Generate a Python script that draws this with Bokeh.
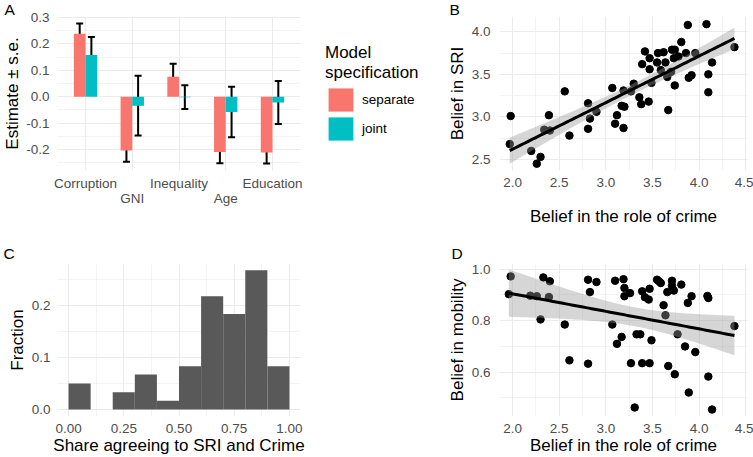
import numpy as np
from bokeh.plotting import figure
from bokeh.models import (Range1d, LinearAxis, FixedTicker, Whisker, TeeHead, ColumnDataSource,
                          Legend, LegendItem, PrintfTickFormatter)
from bokeh.layouts import row, column
from bokeh.embed import file_html
from bokeh.resources import INLINE

# ---------------- data ----------------
# Panel A: coefficient estimates
predictors = ["Corruption", "GNI", "Inequality", "Age", "Education"]
est_separate = [0.238, -0.204, 0.075, -0.209, -0.211]
se_separate = [0.039, 0.042, 0.050, 0.043, 0.042]
est_joint = [0.158, -0.034, -0.002, -0.058, -0.022]
se_joint = [0.068, 0.113, 0.045, 0.096, 0.081]
spec_labels = ["separate", "joint"]
a_yticks = [-0.2, -0.1, 0.0, 0.1, 0.2, 0.3]
a_yminor = [-0.25, -0.15, -0.05, 0.05, 0.15, 0.25]

# Panel B: belief in role of crime vs belief in SRI
crime_b = [1.98, 1.97, 2.20, 2.30, 2.26, 2.34, 2.40, 2.39, 2.56, 2.61, 2.81, 2.83, 2.81, 2.90,
           3.07, 3.19, 3.12, 3.10, 3.19, 3.17, 3.20, 3.30, 3.27, 3.36, 3.38, 3.46, 3.49, 3.39,
           3.42, 3.47, 3.47, 3.55, 3.56, 3.62, 3.64, 3.59, 3.66, 3.67, 3.71, 3.73, 3.78, 3.74,
           3.70, 3.74, 3.81, 3.86, 3.88, 3.89, 3.92, 3.96, 4.08, 4.10, 4.10, 4.14, 4.38]
sri_b = [3.01, 2.68, 2.60, 2.53, 2.45, 2.85, 2.84, 3.02, 3.30, 2.78, 3.16, 2.98, 2.86, 3.06,
         3.34, 3.31, 3.02, 2.92, 2.87, 3.13, 3.12, 3.39, 3.30, 3.23, 3.15, 3.18, 3.40, 3.62,
         3.77, 3.56, 3.69, 3.64, 3.75, 3.76, 3.64, 3.55, 3.47, 3.08, 3.79, 3.69, 3.71, 3.79,
         3.53, 3.37, 3.88, 3.75, 4.08, 3.46, 3.49, 3.75, 4.09, 3.50, 3.29, 3.64, 3.82]
b_xticks = [2.0, 2.5, 3.0, 3.5, 4.0, 4.5]
b_xminor = [2.25, 2.75, 3.25, 3.75, 4.25]
b_yticks = [2.5, 3.0, 3.5, 4.0]
b_yminor = [2.75, 3.25, 3.75]

# Panel C: histogram
bin_edges = [0.0, 0.1, 0.2, 0.3, 0.4, 0.5, 0.6, 0.7, 0.8, 0.9, 1.0]
fractions = [0.050, 0.000, 0.033, 0.067, 0.017, 0.083, 0.217, 0.183, 0.267, 0.083]
c_xticks = [0.0, 0.25, 0.5, 0.75, 1.0]
c_xminor = [0.125, 0.375, 0.625, 0.875]
c_yticks = [0.0, 0.1, 0.2]
c_yminor = [0.05, 0.15, 0.25]

# Panel D: belief in role of crime vs belief in mobility
crime_d = [1.98, 1.96, 2.19, 2.26, 2.39, 2.33, 2.40, 2.30, 2.56, 2.61, 2.81, 2.81, 2.90, 2.83,
           3.07, 3.10, 3.17, 3.12, 3.19, 3.20, 3.20, 3.26, 3.27, 3.31, 3.33, 3.37, 3.39, 3.47,
           3.49, 3.39, 3.42, 3.46, 3.47, 3.55, 3.57, 3.59, 3.66, 3.62, 3.64, 3.67, 3.71, 3.71,
           3.73, 3.74, 3.77, 3.81, 3.85, 3.88, 3.92, 3.96, 3.89, 4.09, 4.10, 4.10, 4.14, 4.38]
mobility_d = [0.972, 0.903, 0.897, 0.895, 0.892, 0.968, 0.953, 0.805, 0.785, 0.646, 0.633, 0.959,
              0.950, 0.911, 0.785, 0.955, 0.737, 0.710, 0.961, 0.927, 0.895, 0.907, 0.635, 0.463,
              0.747, 0.747, 0.635, 0.635, 0.724, 0.914, 0.891, 0.882, 0.924, 0.959, 0.953, 0.946,
              0.911, 0.860, 0.821, 0.624, 0.955, 0.936, 0.917, 0.592, 0.747, 0.940, 0.700, 0.869,
              0.895, 0.678, 0.521, 0.896, 0.888, 0.583, 0.455, 0.779]
d_yticks = [0.6, 0.8, 1.0]
d_yminor = [0.5, 0.7, 0.9]

# ---------------- style ----------------
FONT = "Liberation Sans"
TICK_SIZE = "13.5px"
TITLE_SIZE = "17px"
TICK_COLOR = "#4D4D4D"
GRID = "#EBEBEB"
C_SEP = "#F8766D"
C_JOINT = "#00BFC4"


def base_fig(width, height, xr, yr, left, right, top, bottom, letter, offset, standoff):
    p = figure(width=width, height=height, x_range=xr, y_range=yr,
               output_backend="svg", toolbar_location=None,
               min_border_left=left, min_border_right=right,
               min_border_top=top, min_border_bottom=bottom)
    p.outline_line_color = None
    p.background_fill_color = "white"
    p.border_fill_color = "white"
    p.title.text = letter
    p.title.align = "left"
    p.title.offset = offset
    p.title.standoff = standoff
    p.title.text_font = FONT
    p.title.text_font_size = "15.5px"
    p.title.text_font_style = "normal"
    p.title.text_color = "black"
    p.title.text_line_height = 1.0
    return p


def style_axis(ax, fmt=None, standoff=6):
    ax.axis_line_color = None
    ax.major_tick_line_color = None
    ax.minor_tick_line_color = None
    ax.major_tick_out = 0
    ax.major_tick_in = 0
    ax.minor_tick_out = 0
    ax.minor_tick_in = 0
    ax.major_label_text_font = FONT
    ax.major_label_text_font_size = TICK_SIZE
    ax.major_label_text_color = TICK_COLOR
    ax.major_label_standoff = standoff
    ax.axis_label_text_font = FONT
    ax.axis_label_text_font_size = TITLE_SIZE
    ax.axis_label_text_font_style = "normal"
    ax.axis_label_text_color = "black"
    if fmt is not None:
        ax.formatter = PrintfTickFormatter(format=fmt)


def style_grid(g, ticker):
    g.ticker = ticker
    g.grid_line_color = GRID
    g.grid_line_width = 1.1
    g.minor_grid_line_color = GRID
    g.minor_grid_line_width = 0.6


def lm_band(x, y, n_grid=80):
    x = np.asarray(x, float)
    y = np.asarray(y, float)
    n = len(x)
    b1, b0 = np.polyfit(x, y, 1)
    resid = y - (b0 + b1 * x)
    s = np.sqrt(np.sum(resid ** 2) / (n - 2))
    xs = np.linspace(x.min(), x.max(), n_grid)
    se = s * np.sqrt(1.0 / n + (xs - x.mean()) ** 2 / np.sum((x - x.mean()) ** 2))
    fit = b0 + b1 * xs
    t = 2.0
    return xs, fit, fit - t * se, fit + t * se


# ---------------- Panel A ----------------
xpos = np.arange(1, len(predictors) + 1)
dodge = 0.125
srcA_sep = ColumnDataSource(dict(x=xpos - dodge, top=est_separate,
                                 lo=np.array(est_separate) - np.array(se_separate),
                                 hi=np.array(est_separate) + np.array(se_separate)))
srcA_joint = ColumnDataSource(dict(x=xpos + dodge, top=est_joint,
                                   lo=np.array(est_joint) - np.array(se_joint),
                                   hi=np.array(est_joint) + np.array(se_joint)))

pA = base_fig(312, 238, Range1d(0.4, 5.6), Range1d(-0.2795, 0.3035), 52, 12, 15, 68, "A", -53, -3)
pA.vbar(x="x", top="top", bottom=0, width=0.25, source=srcA_sep,
        fill_color=C_SEP, line_color=None)
pA.vbar(x="x", top="top", bottom=0, width=0.25, source=srcA_joint,
        fill_color=C_JOINT, line_color=None)
for src in (srcA_sep, srcA_joint):
    pA.add_layout(Whisker(base="x", lower="lo", upper="hi", source=src,
                          line_color="black", line_width=2,
                          upper_head=TeeHead(size=7, line_width=2, line_color="black"),
                          lower_head=TeeHead(size=7, line_width=2, line_color="black")))

style_axis(pA.xaxis[0], standoff=5)
pA.xaxis[0].ticker = FixedTicker(ticks=[int(v) for v in xpos[::2]])
pA.xaxis[0].major_label_overrides = {int(i + 1): n for i, n in enumerate(predictors) if i % 2 == 0}
ax2 = LinearAxis(ticker=FixedTicker(ticks=[int(v) for v in xpos[1::2]]))
style_axis(ax2, standoff=-3)
ax2.major_label_overrides = {int(i + 1): n for i, n in enumerate(predictors) if i % 2 == 1}
pA.add_layout(ax2, "below")

style_axis(pA.yaxis[0], fmt="%.1f", standoff=8)
pA.yaxis[0].ticker = FixedTicker(ticks=a_yticks, minor_ticks=a_yminor)
pA.yaxis[0].axis_label = "Estimate ± s.e."
pA.yaxis[0].axis_label_standoff = 1
style_grid(pA.xgrid[0], FixedTicker(ticks=[int(v) for v in xpos]))
style_grid(pA.ygrid[0], FixedTicker(ticks=a_yticks, minor_ticks=a_yminor))

# ---------------- Legend (own small figure) ----------------
pL = figure(width=128, height=457, x_range=Range1d(0, 1), y_range=Range1d(0, 1),
            output_backend="svg", toolbar_location=None,
            x_axis_location=None, y_axis_location=None,
            min_border_left=13, min_border_right=0, min_border_top=43, min_border_bottom=0)
pL.grid.visible = False
pL.outline_line_color = None
# placeholder renderers (no visible mark) that only provide the legend swatches
leg_sep = pL.vbar(x=[np.nan], top=[np.nan], width=0.1, fill_color=C_SEP, line_color=None)
leg_joint = pL.vbar(x=[np.nan], top=[np.nan], width=0.1, fill_color=C_JOINT, line_color=None)
legend = Legend(items=[LegendItem(label=spec_labels[0], renderers=[leg_sep]),
                       LegendItem(label=spec_labels[1], renderers=[leg_joint])],
                title="Model\nspecification", location="top_left")
legend.title_text_font = FONT
legend.title_text_font_size = TITLE_SIZE
legend.title_text_font_style = "normal"
legend.title_text_color = "black"
legend.title_standoff = 2
legend.label_text_font = FONT
legend.label_text_font_size = TICK_SIZE
legend.label_text_color = "black"
legend.label_standoff = 6
legend.glyph_width = 31
legend.glyph_height = 29
legend.label_height = 29
legend.spacing = 0
legend.padding = 0
legend.margin = 0
legend.border_line_color = None
legend.background_fill_color = None
pL.add_layout(legend)

# ---------------- Panel B ----------------
pB = base_fig(313, 238, Range1d(1.86, 4.52), Range1d(2.37, 4.18), 59, 6, 15, 68, "B", -50, -3)
pB.scatter(crime_b, sri_b, size=7.5, color="black")
xs, fit, lo, hi = lm_band(crime_b, sri_b)
pB.varea(x=xs, y1=lo, y2=hi, fill_color="#999999", fill_alpha=0.4)
pB.line(xs, fit, line_color="black", line_width=3)
style_axis(pB.xaxis[0], fmt="%.1f", standoff=7)
pB.xaxis[0].ticker = FixedTicker(ticks=b_xticks, minor_ticks=b_xminor)
pB.xaxis[0].axis_label = "Belief in the role of crime"
pB.xaxis[0].axis_label_standoff = 17
style_axis(pB.yaxis[0], fmt="%.1f", standoff=9)
pB.yaxis[0].ticker = FixedTicker(ticks=b_yticks, minor_ticks=b_yminor)
pB.yaxis[0].axis_label = "Belief in SRI"
pB.yaxis[0].axis_label_standoff = 2
style_grid(pB.xgrid[0], FixedTicker(ticks=b_xticks, minor_ticks=b_xminor))
style_grid(pB.ygrid[0], FixedTicker(ticks=b_yticks, minor_ticks=b_yminor))

# ---------------- Panel C ----------------
pC = base_fig(312, 219, Range1d(-0.05, 1.05), Range1d(-0.0133, 0.28), 52, 12, 25, 39, "C", -54, 4)
pC.quad(left=bin_edges[:-1], right=bin_edges[1:], bottom=0, top=fractions,
        fill_color="#595959", line_color=None)
style_axis(pC.xaxis[0], fmt="%.2f", standoff=7)
pC.xaxis[0].ticker = FixedTicker(ticks=c_xticks, minor_ticks=c_xminor)
pC.xaxis[0].axis_label = "Share agreeing to SRI and Crime"
pC.xaxis[0].axis_label_standoff = 0
style_axis(pC.yaxis[0], fmt="%.1f", standoff=7)
pC.yaxis[0].ticker = FixedTicker(ticks=c_yticks, minor_ticks=c_yminor)
pC.yaxis[0].axis_label = "Fraction"
pC.yaxis[0].axis_label_standoff = 2
style_grid(pC.xgrid[0], FixedTicker(ticks=c_xticks, minor_ticks=c_xminor))
style_grid(pC.ygrid[0], FixedTicker(ticks=c_yticks, minor_ticks=c_yminor))

# ---------------- Panel D ----------------
pD = base_fig(313, 219, Range1d(1.86, 4.52), Range1d(0.428, 1.022), 59, 6, 25, 39, "D", -48, 4)
pD.scatter(crime_d, mobility_d, size=7.5, color="black")
xs, fit, lo, hi = lm_band(crime_d, mobility_d)
pD.varea(x=xs, y1=lo, y2=hi, fill_color="#999999", fill_alpha=0.4)
pD.line(xs, fit, line_color="black", line_width=3)
style_axis(pD.xaxis[0], fmt="%.1f", standoff=7)
pD.xaxis[0].ticker = FixedTicker(ticks=b_xticks, minor_ticks=b_xminor)
pD.xaxis[0].axis_label = "Belief in the role of crime"
pD.xaxis[0].axis_label_standoff = 0
style_axis(pD.yaxis[0], fmt="%.1f", standoff=9)
pD.yaxis[0].ticker = FixedTicker(ticks=d_yticks, minor_ticks=d_yminor)
pD.yaxis[0].axis_label = "Belief in mobility"
pD.yaxis[0].axis_label_standoff = 2
style_grid(pD.xgrid[0], FixedTicker(ticks=b_xticks, minor_ticks=b_xminor))
style_grid(pD.ygrid[0], FixedTicker(ticks=d_yticks, minor_ticks=d_yminor))

layout = row(column(pA, pC), pL, column(pB, pD))
open("out.html", "w").write(file_html(layout, INLINE))
